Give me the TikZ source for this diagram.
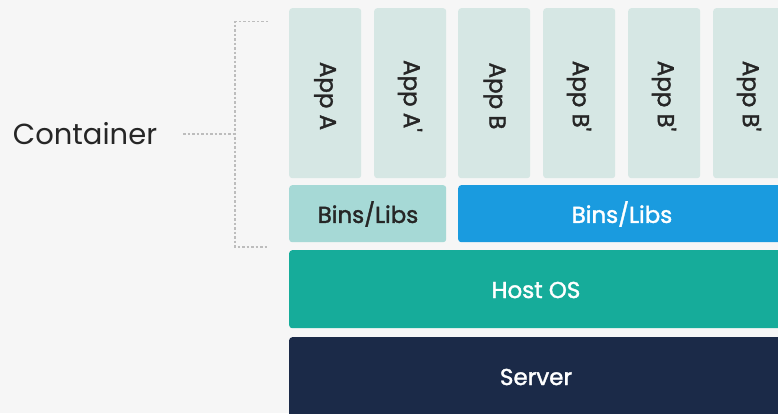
\documentclass[tikz,border=0pt]{standalone}
\usepackage{fontspec}
\setmainfont{Poppins}
\newfontfamily\medf{Poppins}[FakeBold=1.6]
\usepackage{graphicx}
\definecolor{bgc}{HTML}{F6F6F6}
\definecolor{appc}{HTML}{D6E7E4}
\definecolor{binsa}{HTML}{A6D9D6}
\definecolor{binsb}{HTML}{1A9BDF}
\definecolor{hostc}{HTML}{16AC9A}
\definecolor{serverc}{HTML}{1B2A48}
\definecolor{txtc}{HTML}{262626}
\definecolor{dashc}{HTML}{BDBDBD}
\tikzset{
  layer/.style={draw=none, rounded corners=3pt, anchor=north west, inner sep=0pt},
  appbox/.style={layer, fill=appc, minimum width=72pt, minimum height=170pt},
  lbl/.style={inner sep=0pt, font=\medf\fontsize{23}{26}\selectfont},
  bracket/.style={draw=dashc, line width=1.1pt, dash pattern=on 2.5pt off 2pt},
}
\begin{document}
\begin{tikzpicture}[x=1pt,y=-1pt]
\fill[bgc] (0,0) rectangle (778,413);
\useasboundingbox (0,0) rectangle (778,413);
\begin{scope}
\clip (0,0) rectangle (778,413);
\node[appbox] (appA) at (289,8) {};
\node[appbox] (appA2) at (374,8) {};
\node[appbox] (appB) at (458,8) {};
\node[appbox] (appB1) at (543,8) {};
\node[appbox] (appB2) at (628,8) {};
\node[appbox] (appB3) at (713,8) {};
\node[layer, fill=binsa, minimum width=157pt, minimum height=57pt] (binsA) at (289,185) {};
\node[layer, fill=binsb, minimum width=384pt, minimum height=57pt] (binsB) at (458,185) {};
\node[layer, fill=hostc, minimum width=540pt, minimum height=78pt] (host) at (289,250) {};
\node[layer, fill=serverc, minimum width=540pt, minimum height=90pt] (server) at (289,337) {};
\end{scope}
\node[lbl, text=txtc, rotate=-90] (tA) at (325,96) {App A};
\node[lbl, text=txtc, rotate=-90] (tA2) at (410,96) {App A'};
\node[lbl, text=txtc, rotate=-90] (tB) at (494.5,96) {App B};
\node[lbl, text=txtc, rotate=-90] (tB1) at (579,96) {App B'};
\node[lbl, text=txtc, rotate=-90] (tB2) at (664,96) {App B'};
\node[lbl, text=txtc, rotate=-90] (tB3) at (749,96) {App B'};
\node[lbl, text=txtc] (tbinsA) at (368,214) {Bins/Libs};
\node[lbl, text=white] (tbinsB) at (622,214) {Bins/Libs};
\node[lbl, text=white] (thost) at (536,290) {Host OS};
\node[lbl, text=white] (tserver) at (536,377) {Server};
\node[font=\fontsize{29}{33}\selectfont, text=txtc, inner sep=0pt] (cont) at (85,134) {Container};
\coordinate (bm) at (235,134);
\coordinate (bt) at (235,21.5);
\coordinate (bb) at (235,247);
\coordinate (tt) at (268,21.5);
\coordinate (tb) at (268,247);
\draw[bracket] (183,134) -- (bm);
\draw[bracket] (tt) -- (bt) -- (bb) -- (tb);
\end{tikzpicture}
\end{document}
